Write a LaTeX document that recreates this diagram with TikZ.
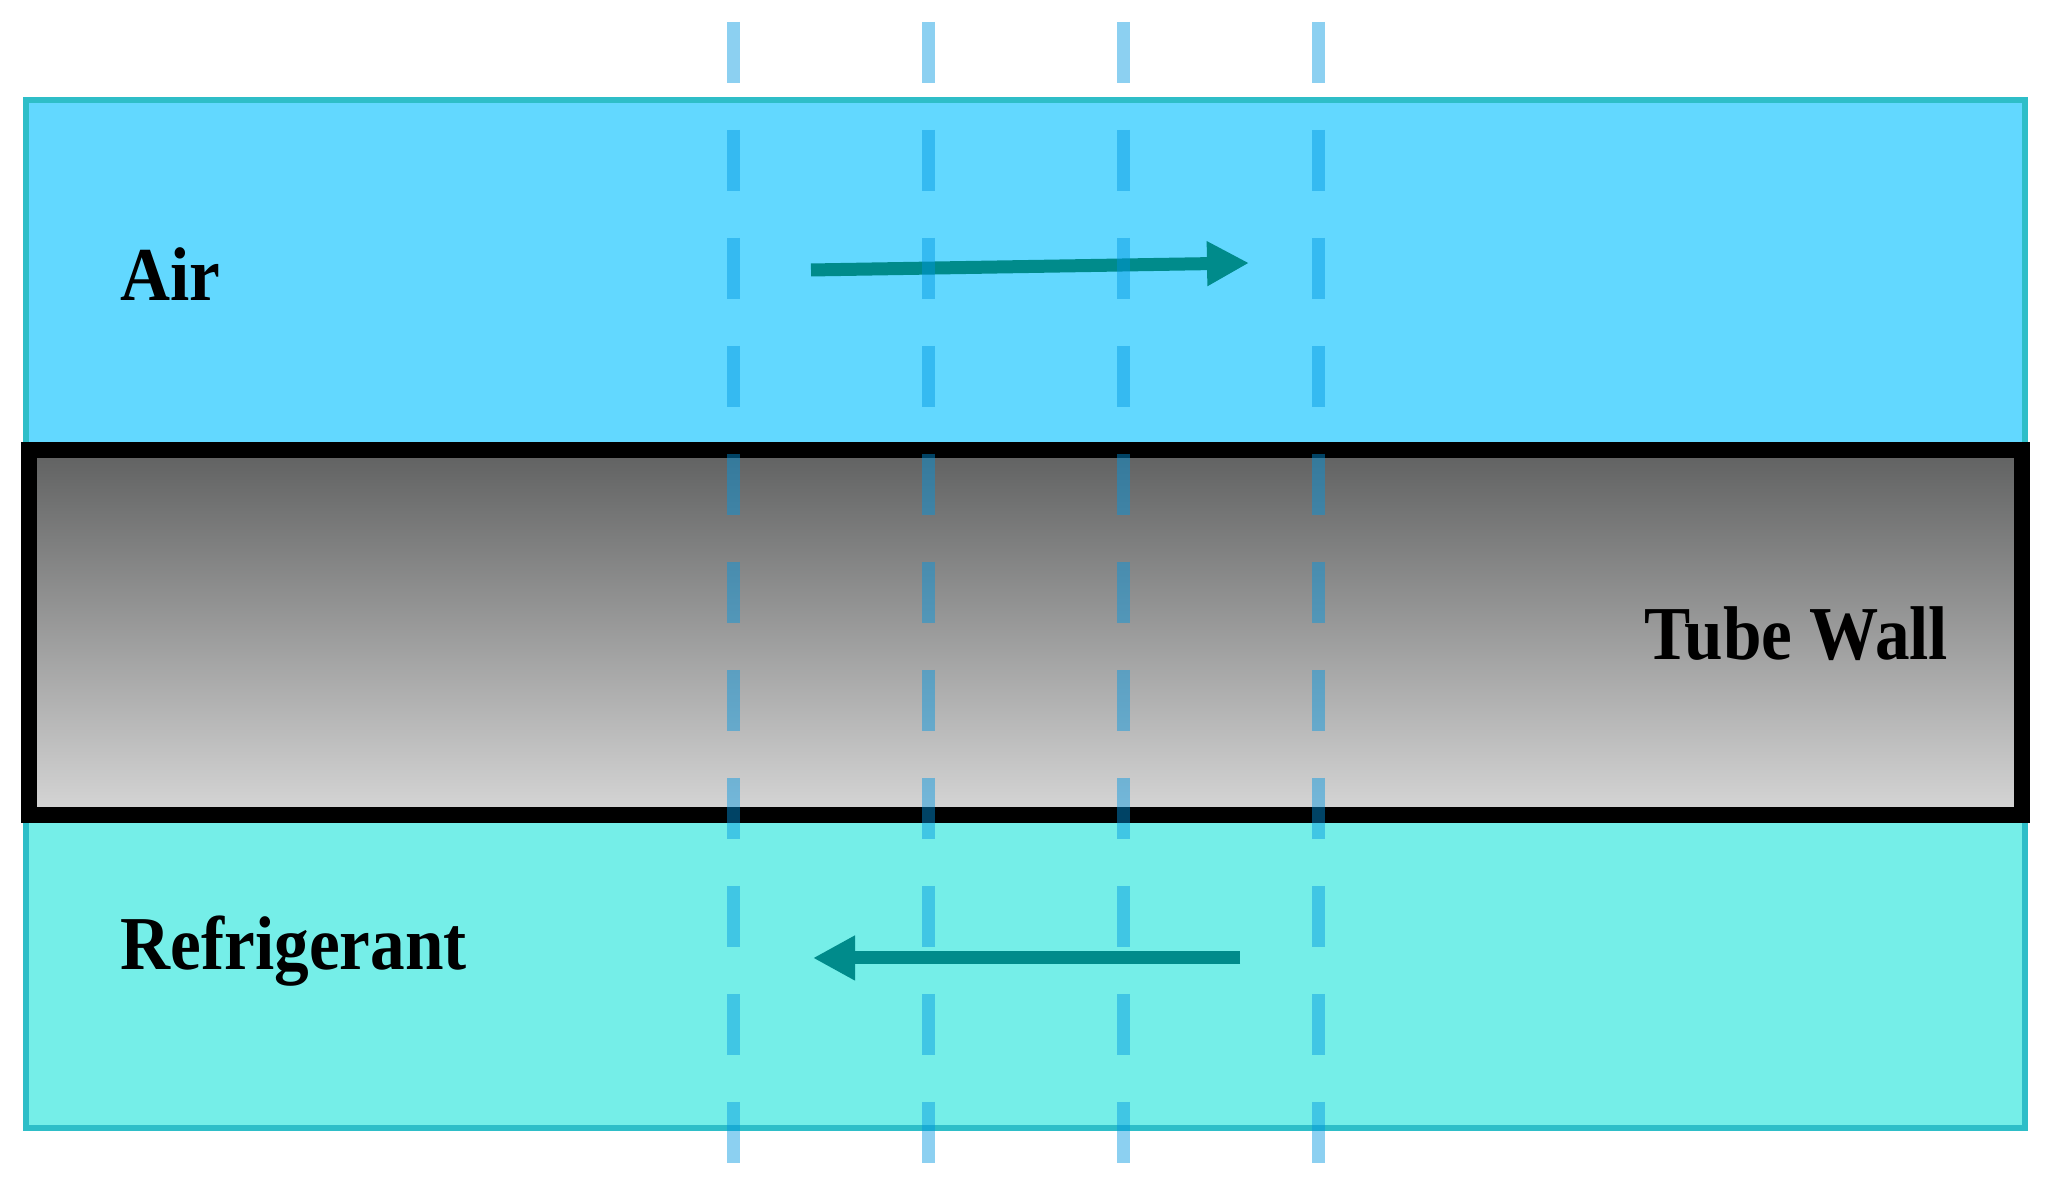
\documentclass[tikz,border=0pt]{standalone}
\usepackage{fontspec}
\setmainfont{Liberation Serif}
\usepackage{xcolor}
\usetikzlibrary{arrows.meta,positioning}

\definecolor{airblue}{RGB}{98,216,255}
\definecolor{refcyan}{RGB}{117,238,232}
\definecolor{edgeteal}{RGB}{46,190,200}
\definecolor{flowteal}{RGB}{0,139,139}
\definecolor{gridblue}{RGB}{0,150,225}
\definecolor{walltop}{RGB}{96,97,97}
\definecolor{wallmid}{RGB}{150,164,167}
\definecolor{wallbot}{RGB}{214,214,214}

\begin{document}
\begin{tikzpicture}[
    fluid/.style={draw=edgeteal, line width=1.6pt},
    wall/.style={draw=black, line width=0.16cm, top color=walltop, middle color=wallmid, bottom color=wallbot},
    label/.style={inner sep=0pt, anchor=base west, font=\fontsize{19.7}{23}\selectfont\bfseries},
    flow/.style={-{Triangle[length=0.42cm, width=0.42cm]}, line width=0.13cm, flowteal},
    cut/.style={gridblue, opacity=0.45, line width=0.13cm, dash pattern=on 0.61cm off 0.47cm}
]
\useasboundingbox (0,0) rectangle (20.51,11.93);

% Fluid regions
\draw[fluid, fill=airblue] (0.26,7.43) rectangle (20.25,10.93);
\draw[fluid, fill=refcyan] (0.26,0.65) rectangle (20.25,3.78);

% Tube wall
\draw[wall] (0.29,3.78) rectangle (20.22,7.43);

% Labels
\node[label] (air) at (1.20,8.92) {\scalebox{1}[1.1]{Air}};
\node[label] (ref) at (1.20,2.23) {\scalebox{1}[1.1]{Refrigerant}};
\node[label] (tube) at (16.44,5.33) {\scalebox{1}[1.1]{Tube Wall}};

% Flow directions
\coordinate (airtail) at (8.11,9.23);
\coordinate (airhead) at (12.49,9.30);
\coordinate (reftail) at (12.40,2.35);
\coordinate (refhead) at (8.13,2.35);
\draw[flow] (airtail) -- (airhead);
\draw[flow] (reftail) -- (refhead);

% Control volume cuts
\foreach \i in {0,...,3}
    \draw[cut] (7.33+1.953*\i,11.71) -- (7.33+1.953*\i,0.29);

\end{tikzpicture}
\end{document}
